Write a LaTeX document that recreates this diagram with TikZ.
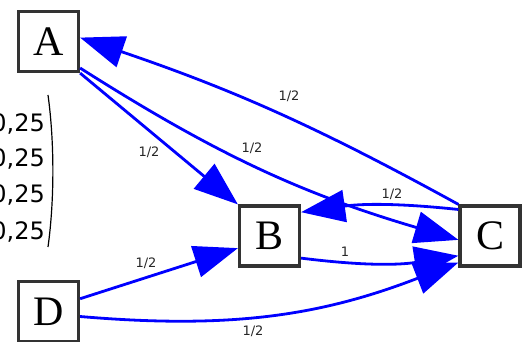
\documentclass[tikz,border=0pt]{standalone}
\usepackage{fontspec}
\usepackage{tikz}
\usetikzlibrary{
    arrows.meta,
    positioning
}
\newfontfamily\letterfont{Liberation Serif}
\newfontfamily\weightfont{DejaVu Sans}

\begin{document}
\begin{tikzpicture}[
    x=1pt, y=1pt,
    vertex/.style={
        rectangle,
        draw=black!80,
        line width=3.2pt,
        minimum size=60pt,
        inner sep=0pt,
        fill=white,
        font=\letterfont\fontsize{42}{42}\selectfont
    },
    weight/.style={
        font=\weightfont\fontsize{13}{13}\selectfont,
        text=black!85,
        inner sep=1pt
    },
    entry/.style={
        anchor=base east,
        inner sep=0pt,
        font=\weightfont\fontsize{24}{24}\selectfont
    },
    link/.style={
        draw=blue,
        line width=2.8pt,
        -{Triangle[length=44pt,width=32pt]}
    }
]

% Frame
\useasboundingbox (0,0) rectangle (532,342);
\clip (0,0) rectangle (532,342);

% Stationary vector (cut at the left border)
\node[entry] (v1) at (45,210) {0,25};
\node[entry] (v2) at (45,175) {0,25};
\node[entry] (v3) at (45,139) {0,25};
\node[entry] (v4) at (45,102) {0,25};
\draw[line width=1.2pt] (48,247) .. controls (54.5,200) and (54.5,142) .. (48,95);

% Vertices
\node[vertex] (A) at (48.5,300.5) {A};
\node[vertex] (B) at (269.5,106) {B};
\node[vertex] (C) at (490,106) {C};
\node[vertex] (D) at (48.5,30.5) {D};

% Edges
\draw[link] (C.north west) to[bend right=5] (A.7);
\draw[link] (A.south east) -- (B.north west);
\draw[link] (A.-40) to[bend right=8] (C.187);
\draw[link] (C.140) to[bend right=7] (B.37);
\draw[link] (B.-35) to[bend right=8] (C.212);
\draw[link] (D.22) -- (B.201);
\draw[link] (D.-9) to[bend right=13] (C.220);

% Weights
\node[weight] (wCA) at (289,246) {1/2};
\node[weight] (wAB) at (149,190) {1/2};
\node[weight] (wAC) at (252,194) {1/2};
\node[weight] (wCB) at (392,148) {1/2};
\node[weight] (wBC) at (345,90) {1};
\node[weight] (wDB) at (146,79) {1/2};
\node[weight] (wDC) at (253,11) {1/2};

\end{tikzpicture}
\end{document}
